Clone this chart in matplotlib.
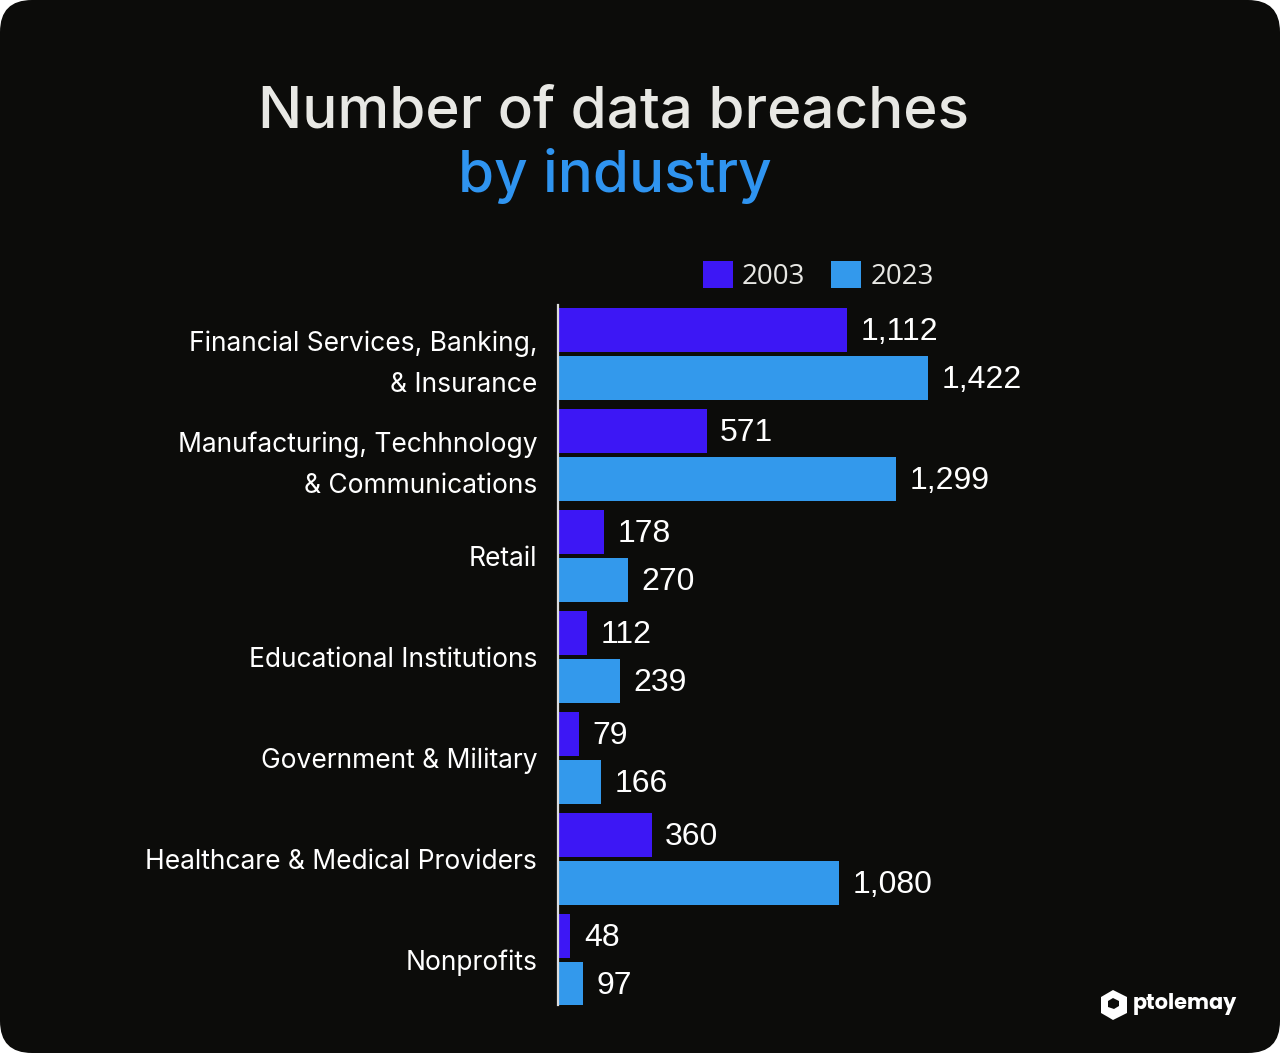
import matplotlib.pyplot as plt
from matplotlib.patches import FancyBboxPatch, Polygon
import numpy as np

# data
industries = ['Financial Services, Banking,\n& Insurance',
              'Manufacturing, Techhnology\n& Communications',
              'Retail',
              'Educational Institutions',
              'Government & Military',
              'Healthcare & Medical Providers',
              'Nonprofits']
breaches_2003 = [1112, 571, 178, 112, 79, 360, 48]
breaches_2023 = [1422, 1299, 270, 239, 166, 1080, 97]
years = ['2003', '2023']

bg = '#0c0c0a'
c2003 = '#3d17f5'
c2023 = '#3399ec'
W, H = 1280, 1053

fig = plt.figure(figsize=(W / 100, H / 100), dpi=100, facecolor='white')
# rounded dark card
fig.patches.append(FancyBboxPatch((0, 0), 1, 1, boxstyle='round,pad=0,rounding_size=0.025',
                                  transform=fig.transFigure, facecolor=bg, edgecolor='none',
                                  mutation_aspect=W / H, zorder=-10))

ax = fig.add_axes([558 / W, (H - 1005) / H, 600 / W, 700 / H])
ax.set_facecolor('none')

y = np.arange(len(industries))
off = 0.2376
b1 = ax.barh(y - off, breaches_2003, height=0.44, color=c2003, label=years[0])
b2 = ax.barh(y + off, breaches_2023, height=0.44, color=c2023, label=years[1])

for bars, vals in ((b1, breaches_2003), (b2, breaches_2023)):
    for rect, v in zip(bars, vals):
        ax.text(v + 52, rect.get_y() + rect.get_height() / 2 + 0.02, f'{v:,}',
                va='center', ha='left', color='white', fontsize=23,
                family=['Liberation Sans', 'DejaVu Sans'])

ax.set_xlim(0, 600 / 0.2602)
ax.set_ylim(6.446, -0.485)
ax.set_yticks(y)
ax.set_yticklabels(industries, family=['Inter', 'DejaVu Sans'], fontsize=19,
                   color='white', linespacing=1.75, ha='right')
ax.tick_params(axis='y', length=0, pad=15)
ax.set_xticks([])
for s in ['top', 'right', 'bottom']:
    ax.spines[s].set_visible(False)
ax.spines['left'].set_color('#dcdcdc')
ax.spines['left'].set_linewidth(1.6)

leg = fig.legend(handles=[b1, b2], loc='center left',
                 bbox_to_anchor=(703 / W, 1 - 276 / H), ncol=2, frameon=False,
                 handlelength=1.08, handleheight=1.08,
                 handletextpad=0.32, columnspacing=0.94, borderpad=0,
                 borderaxespad=0, prop={'family': ['Open Sans', 'DejaVu Sans'], 'size': 20})
for t in leg.get_texts():
    t.set_color('#e8e8e4')

fig.text(614 / W, 1 - 127 / H, 'Number of data breaches', ha='center', va='baseline',
         fontsize=42, color='#e8e8e4', family=['Inter', 'DejaVu Sans'], weight='medium')
fig.text(615 / W, 1 - 192 / H, 'by industry', ha='center', va='baseline',
         fontsize=42, color='#2f94f0', family=['Inter', 'DejaVu Sans'], weight='medium')

# logo
icon = np.array([[1101, 997], [1113, 990], [1127, 997], [1127, 1013], [1113, 1020],
                 [1108, 1017], [1108, 1007], [1114, 1009], [1119, 1006], [1119, 1001],
                 [1113, 998], [1108, 1001], [1108, 1017], [1101, 1013]], dtype=float)
icon[:, 0] /= W
icon[:, 1] = 1 - icon[:, 1] / H
fig.patches.append(Polygon(icon, closed=True, transform=fig.transFigure,
                           facecolor='white', edgecolor='none'))
fig.text(1133 / W, 1 - 1004 / H, 'ptolemay', ha='left', va='center', fontsize=15,
         color='white', weight='bold', family=['Poppins', 'Inter', 'DejaVu Sans'])

fig.savefig('out.png', dpi=100, facecolor=fig.get_facecolor())
